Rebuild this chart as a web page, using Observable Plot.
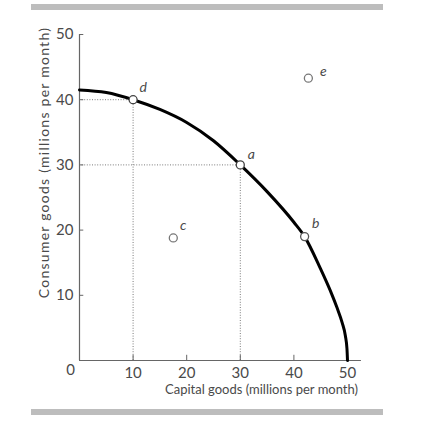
<!DOCTYPE html>
<html>
<head>
<meta charset="utf-8">
<script src="https://cdn.jsdelivr.net/npm/d3@7"></script>
<script src="https://cdn.jsdelivr.net/npm/@observablehq/plot@0.6"></script>
<style>
  html, body { margin: 0; padding: 0; background: #fff; }
  #wrap { position: relative; width: 423px; height: 421px; overflow: hidden; }
  .bar { position: absolute; left: 31px; width: 352px; height: 6px; background: #bdbdbd; }
  #wrap svg { position: absolute; left: 0; top: 0; }
</style>
</head>
<body>
<div id="wrap">
  <div class="bar" style="top:4px"></div>
  <div class="bar" style="top:409px"></div>
</div>
<script>
// Tick values
const xTicks = [10, 20, 30, 40, 50];
const yTicks = [10, 20, 30, 40, 50];
const xTitle = "Capital goods (millions per month)";
const yTitle = "Consumer goods (millions per month)";

// Production possibility frontier
const curveX = [0, 5, 10, 15, 20, 25, 30, 35, 40, 42, 45, 46, 47, 48, 49, 49.6, 49.9, 50];
const curveY = [41.5, 41.1, 40, 38.5, 36.5, 33.7, 30, 25.9, 21.2, 19, 14, 12.2, 10.3, 8.2, 5.8, 3.8, 1.8, 0];

// Labelled points
const pointNames = ["a", "b", "c", "d", "e"];
const pointX = [30, 42, 17.5, 10, 42.7];
const pointY = [30, 19, 18.8, 40, 43.3];

// Points with guide lines
const guideNames = ["d", "a"];

const curve = curveX.map((x, i) => ({x, y: curveY[i]}));
const points = pointNames.map((n, i) => ({name: n, x: pointX[i], y: pointY[i]}));
const guides = points.filter(p => guideNames.includes(p.name));

const labelOffset = {a: [11, -10], b: [11, -13], c: [10, -12], d: [10, -12], e: [15, -7]};
const pointStroke = {a: "#444", b: "#555", c: "#777", d: "#444", e: "#777"};

const font = "Lato, 'Noto Sans', sans-serif";
const grey = "#4a4a4a";

const marks = [
  // dotted guides
  Plot.ruleY(guides, {y: "y", x1: 0, x2: "x", stroke: "#7a7a7a", strokeWidth: 1, strokeDasharray: "1,1.6"}),
  Plot.ruleX(guides, {x: "x", y1: 0, y2: "y", stroke: "#7a7a7a", strokeWidth: 1, strokeDasharray: "1,1.6"}),
  // axis lines
  Plot.ruleX([0], {y1: 0, y2: 50, stroke: "#666", strokeWidth: 1.2}),
  Plot.ruleY([0], {x1: 0, x2: 52.6, stroke: "#666", strokeWidth: 1.2}),
  // inward ticks
  Plot.ruleY(yTicks, {y: d => d, x1: 0, x2: 0.8, stroke: "#666", strokeWidth: 1}),
  Plot.ruleX(xTicks, {x: d => d, y1: 0, y2: 0.8, stroke: "#666", strokeWidth: 1}),
  // tick labels
  Plot.text(yTicks, {x: 0, y: d => d, text: d => String(d), dx: -6, textAnchor: "end", fontSize: 15, fill: grey}),
  Plot.text(xTicks, {x: d => d, y: 0, text: d => String(d), dy: 13, fontSize: 15, fill: grey}),
  Plot.text([0], {x: 0, y: 0, text: d => String(d), dx: -9, dy: 10, fontSize: 15, fill: grey}),
  // axis titles
  Plot.text([xTitle], {frameAnchor: "bottom", textAnchor: "middle", text: d => d, dx: 48, dy: 33, fontSize: 13, fill: grey, className: "xtitle"}),
  Plot.text([yTitle], {frameAnchor: "left", textAnchor: "middle", text: d => d, rotate: -90, dx: -35, dy: -35, fontSize: 14, fill: grey, className: "ytitle"}),
  // frontier
  Plot.line(curve, {x: "x", y: "y", curve: "monotone-x", stroke: "#000", strokeWidth: 3}),
  // points
  Plot.dot(points, {x: "x", y: "y", r: 4, fill: "#fff", stroke: d => pointStroke[d.name], strokeWidth: 1.3})
];
for (const p of points) {
  const [dx, dy] = labelOffset[p.name];
  marks.push(Plot.text([p], {x: "x", y: "y", text: "name", dx, dy, fontSize: 14, fontStyle: "italic", fill: grey}));
}

const chart = Plot.plot({
  width: 423,
  height: 421,
  marginLeft: 79,
  marginRight: 76,
  marginTop: 34,
  marginBottom: 61,
  x: {domain: [0, 50], axis: null},
  y: {domain: [0, 50], axis: null},
  style: {fontFamily: font, background: "transparent", overflow: "visible"},
  marks
});
chart.querySelectorAll(".ytitle text").forEach(t => t.style.letterSpacing = "1.25px");
document.getElementById("wrap").appendChild(chart);
</script>
</body>
</html>
